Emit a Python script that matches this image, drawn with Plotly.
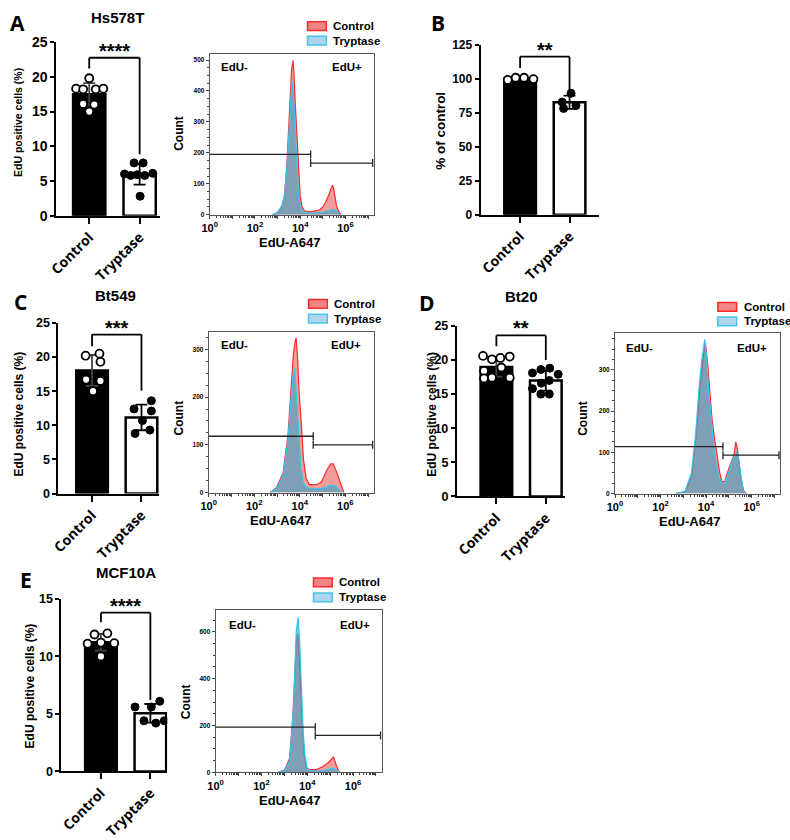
import numpy as np
import plotly.graph_objects as go

W, H = 790, 840

# ---------------- bar chart data (EdU positive cells %) ----------------
groups = ["Control", "Tryptase"]

A_ctrl = [19.8, 18.3, 18.2, 18.2, 18.3, 16.1, 16.0, 15.0]
A_ctrl_dx = [0.0, -0.26, -0.12, 0.13, 0.28, -0.12, 0.10, 0.0]
A_tryp = [7.6, 7.6, 6.0, 5.8, 5.9, 5.8, 6.1, 2.8]
A_tryp_dx = [-0.11, 0.07, -0.30, -0.18, -0.05, 0.10, 0.26, 0.01]

B_ctrl = [99.3, 100.9, 100.9, 99.9]
B_ctrl_dx = [-0.25, -0.09, 0.08, 0.27]
B_tryp = [89.5, 83.0, 78.3, 80.4]
B_tryp_dx = [0.03, -0.15, -0.12, 0.13]

C_ctrl = [20.2, 20.5, 19.3, 16.7, 16.5, 15.0]
C_ctrl_dx = [-0.13, 0.15, 0.17, -0.12, 0.17, 0.02]
C_tryp = [13.6, 12.4, 12.1, 10.7, 8.8, 9.3]
C_tryp_dx = [0.20, -0.15, 0.20, 0.02, -0.13, 0.17]

D_ctrl = [20.6, 20.1, 20.3, 20.5, 18.4, 18.9, 17.3, 17.4, 17.4]
D_ctrl_dx = [-0.27, -0.09, 0.08, 0.27, -0.25, 0.10, -0.25, -0.09, 0.27]
D_tryp = [18.1, 18.6, 18.8, 17.9, 17.0, 16.6, 15.8, 15.0, 15.0]
D_tryp_dx = [-0.27, -0.10, 0.08, 0.25, 0.07, -0.09, -0.27, -0.10, 0.07]

E_ctrl = [11.1, 11.9, 11.2, 12.0, 11.15, 10.0]
E_ctrl_dx = [-0.27, -0.13, 0.0, 0.13, 0.27, 0.0]
E_tryp = [5.6, 6.1, 5.6, 4.4, 4.2, 4.4]
E_tryp_dx = [-0.31, 0.19, 0.02, -0.13, 0.11, 0.28]

# ---------------- flow histograms (log10 EdU-A647 intensity, count) ----------------
A_hc_x = [2.80, 3.05, 3.20, 3.30, 3.40, 3.48, 3.55, 3.62, 3.68, 3.73, 3.78, 3.85, 3.92, 4.00, 4.08, 4.20, 4.45, 4.65, 4.85, 5.00, 5.12, 5.25, 5.35, 5.42, 5.47, 5.52, 5.60, 5.70, 5.80]
A_hc_y = [0, 8, 30, 60, 150, 280, 400, 470, 498, 450, 360, 250, 150, 60, 25, 12, 9, 11, 15, 25, 40, 62, 80, 95, 88, 60, 30, 10, 0]
A_ht_x = [2.75, 3.00, 3.20, 3.32, 3.42, 3.50, 3.57, 3.63, 3.68, 3.74, 3.82, 3.90, 3.98, 4.08, 4.25, 4.60, 5.00, 5.20, 5.40, 5.55, 5.65, 5.75]
A_ht_y = [0, 8, 30, 70, 160, 270, 380, 430, 415, 330, 200, 100, 40, 12, 6, 5, 8, 12, 16, 15, 8, 0]

C_hc_x = [2.70, 2.97, 3.26, 3.48, 3.62, 3.72, 3.80, 3.84, 3.90, 3.97, 4.06, 4.16, 4.28, 4.42, 4.60, 4.80, 4.95, 5.07, 5.22, 5.36, 5.46, 5.60, 5.72, 5.84, 5.94]
C_hc_y = [0, 10, 40, 120, 220, 290, 318, 324, 285, 210, 150, 70, 30, 17, 16, 18, 22, 35, 50, 60, 60, 45, 28, 10, 0]
C_ht_x = [2.70, 2.97, 3.26, 3.48, 3.62, 3.72, 3.78, 3.85, 3.95, 4.05, 4.16, 4.30, 4.60, 4.90, 5.10, 5.30, 5.50, 5.65, 5.78, 5.85]
C_ht_y = [0, 8, 35, 110, 200, 250, 260, 205, 115, 50, 20, 10, 8, 8, 10, 14, 15, 10, 3, 0]

D_hc_x = [2.70, 3.07, 3.36, 3.58, 3.72, 3.87, 3.97, 4.06, 4.16, 4.26, 4.38, 4.50, 4.60, 4.70, 4.82, 4.96, 5.11, 5.23, 5.30, 5.37, 5.45, 5.55, 5.66, 5.77]
D_hc_y = [0, 5, 40, 150, 250, 330, 365, 320, 250, 180, 130, 80, 50, 28, 30, 55, 80, 95, 125, 110, 70, 30, 5, 0]
D_ht_x = [2.63, 3.07, 3.36, 3.55, 3.68, 3.80, 3.94, 4.01, 4.11, 4.23, 4.34, 4.45, 4.56, 4.70, 4.82, 4.96, 5.11, 5.23, 5.33, 5.40, 5.50, 5.62, 5.72]
D_ht_y = [0, 5, 50, 150, 250, 320, 374, 340, 250, 170, 110, 70, 40, 25, 25, 45, 75, 90, 100, 95, 50, 10, 0]

E_hc_x = [2.72, 3.01, 3.23, 3.38, 3.45, 3.52, 3.58, 3.64, 3.71, 3.78, 3.86, 3.96, 4.10, 4.40, 4.69, 4.90, 5.05, 5.15, 5.27, 5.37, 5.44]
E_hc_y = [0, 10, 60, 250, 400, 557, 591, 520, 350, 200, 80, 20, 12, 12, 25, 40, 55, 65, 30, 5, 0]
E_ht_x = [2.72, 3.01, 3.23, 3.38, 3.45, 3.52, 3.60, 3.67, 3.74, 3.81, 3.89, 3.99, 4.10, 4.50, 4.83, 5.12, 5.27, 5.39]
E_ht_y = [0, 8, 50, 250, 420, 600, 662, 560, 380, 200, 80, 20, 8, 6, 10, 18, 10, 0]

# gates: (boundary log10, EdU- marker count, EdU+ marker count)
A_gate = [4.46, 195, 167]
C_gate = [4.59, 118, 100]
D_gate = [4.74, 114, 93]
E_gate = [4.35, 193, 158]

hist_tick_text = ["10<sup>0</sup>", "", "10<sup>2</sup>", "", "10<sup>4</sup>", "", "10<sup>6</sup>", ""]

# ---------------- helpers ----------------
def fx(px):
    return px / W

def fy(py):
    return 1 - py / H

ARIAL = "Liberation Sans, Arial, sans-serif"
OPEN = "Open Sans, Liberation Sans, sans-serif"

fig = go.Figure()
layout = dict(width=W, height=H, margin=dict(l=0, r=0, t=0, b=0),
              paper_bgcolor="white", plot_bgcolor="rgba(0,0,0,0)",
              showlegend=False, barmode="overlay")
annotations = []
shapes = []


def ann(text, xpx, ypx, size, family=ARIAL, angle=0, xanchor="center", yanchor="middle", weight="bold"):
    annotations.append(dict(text=text, x=fx(xpx), y=fy(ypx), xref="paper", yref="paper",
                            showarrow=False, textangle=angle, xanchor=xanchor, yanchor=yanchor,
                            font=dict(family=family, size=size, color="black", weight=weight)))


def bar_panel(n, ctrl, ctrl_dx, tryp, tryp_dx, xpx, ypx, x0, unit, ymax, dtick, tick_size,
              bracket, stars):
    xa, ya = ("x" if n == 1 else f"x{n}"), ("y" if n == 1 else f"y{n}")
    means = [np.mean(ctrl), np.mean(tryp)]
    sds = [np.std(ctrl, ddof=1), np.std(tryp, ddof=1)]
    fills = ["black", "white"]
    ecol = ["#444444", "black"]
    for i in range(2):
        fig.add_trace(go.Bar(x=[i], y=[means[i]], width=0.64, xaxis=xa, yaxis=ya,
                             marker=dict(color=fills[i], line=dict(color="black", width=2.5)),
                             error_y=dict(type="data", array=[sds[i]], color=ecol[i], thickness=1.8, width=6)))
    fig.add_trace(go.Scatter(x=np.array(ctrl_dx) + 0, y=ctrl, mode="markers", xaxis=xa, yaxis=ya,
                             marker=dict(symbol="circle", size=8, color="white", line=dict(color="black", width=1.8))))
    fig.add_trace(go.Scatter(x=np.array(tryp_dx) + 1, y=tryp, mode="markers", xaxis=xa, yaxis=ya,
                             marker=dict(symbol="circle", size=8, color="black", line=dict(color="black", width=1))))
    x1 = x0 + (xpx[1] - xpx[0]) / unit
    key = "" if n == 1 else str(n)
    layout["xaxis" + key] = dict(domain=[fx(xpx[0]), fx(xpx[1])], range=[x0, x1], anchor=ya,
                                 tickmode="array", tickvals=[0, 1], ticktext=groups, tickangle=-45,
                                 ticks="outside", ticklen=6, tickwidth=2, tickcolor="black",
                                 showline=True, linewidth=2, linecolor="black", showgrid=False, zeroline=False,
                                 tickfont=dict(family=OPEN, size=14, color="black", weight="bold"))
    layout["yaxis" + key] = dict(domain=[fy(ypx[1]), fy(ypx[0])], range=[0, ymax], anchor=xa,
                                 dtick=dtick, ticks="outside", ticklen=4, tickwidth=2, tickcolor="black",
                                 showline=True, linewidth=2, linecolor="black", showgrid=False, zeroline=False,
                                 tickfont=dict(family=ARIAL, size=tick_size, color="black", weight="bold"))
    yb, yl, yr = bracket
    for (a, b, c, d) in [(0, yl, 0, yb), (0, yb, 1, yb), (1, yb, 1, yr)]:
        shapes.append(dict(type="line", xref=xa, yref=ya, x0=a, y0=b, x1=c, y1=d,
                           line=dict(color="black", width=1.8)))
    annotations.append(dict(text=stars, x=0.5, y=yb, xref=xa, yref=ya, showarrow=False,
                            xanchor="center", yanchor="bottom", yshift=-6,
                            font=dict(family=ARIAL, size=20, color="black", weight="bold")))


minor_log = [d + np.log10(k) for d in range(0, 8) for k in range(2, 10) if d + np.log10(k) < 7.25]


def hist_panel(n, cx, cy, tx, ty, gate, xpx, ypx, ymax, dtick, minor_dt):
    xa, ya = f"x{n}", f"y{n}"
    fig.add_trace(go.Scatter(x=cx, y=cy, mode="lines", fill="tozeroy", xaxis=xa, yaxis=ya,
                             line=dict(color="#ff2a2a", width=1.2), fillcolor="rgba(230,60,60,0.5)"))
    fig.add_trace(go.Scatter(x=tx, y=ty, mode="lines", fill="tozeroy", xaxis=xa, yaxis=ya,
                             line=dict(color="#2ec8f0", width=1.2), fillcolor="rgba(50,160,200,0.6)"))
    key = str(n)
    layout["xaxis" + key] = dict(domain=[fx(xpx[0]), fx(xpx[1])], range=[0, 7.25], anchor=ya,
                                 tickmode="array", tickvals=list(range(8)), ticktext=hist_tick_text,
                                 ticks="outside", ticklen=3, tickwidth=1, tickcolor="#444",
                                 showline=True, linewidth=1, linecolor="#555", mirror=True,
                                 showgrid=False, zeroline=False,
                                 minor=dict(tickmode="array", tickvals=minor_log, ticks="outside",
                                            ticklen=2, tickwidth=1, tickcolor="#444"),
                                 tickfont=dict(family=ARIAL, size=11, color="black", weight="bold"))
    layout["yaxis" + key] = dict(domain=[fy(ypx[1]), fy(ypx[0])], range=[0, ymax], anchor=xa,
                                 dtick=dtick, ticks="outside", ticklen=3, tickwidth=1, tickcolor="#444",
                                 showline=True, linewidth=1, linecolor="#555", mirror=True,
                                 showgrid=False, zeroline=False,
                                 minor=dict(dtick=minor_dt, ticks="outside", ticklen=2, tickwidth=1, tickcolor="#444"),
                                 tickfont=dict(family=ARIAL, size=6.5, color="black", weight="bold"))
    gx, gneg, gpos = gate
    lw = dict(color="#222", width=1.3)
    shapes.append(dict(type="line", xref=xa, yref=ya, x0=0, x1=gx, y0=gneg, y1=gneg, line=lw))
    shapes.append(dict(type="line", xref=xa, yref=ya, x0=gx, x1=7.2, y0=gpos, y1=gpos, line=lw))
    for (cxv, cyv) in [(gx, gneg), (gx, gpos), (7.2, gpos)]:
        shapes.append(dict(type="line", xref=xa, yref=ya, ysizemode="pixel", yanchor=cyv,
                           x0=cxv, x1=cxv, y0=-4, y1=4, line=lw))


def hist_labels(edm, edp, count_xy, xlab_xy, leg):
    ann("EdU-", edm[0], edm[1], 11.5)
    ann("EdU+", edp[0], edp[1], 11.5)
    ann("Count", count_xy[0], count_xy[1], 12, angle=-90)
    ann("EdU-A647", xlab_xy[0], xlab_xy[1], 13)
    bx, by1, by2, tx = leg
    for (yy, fc, lc, lab) in [(by1, "rgba(238,120,120,0.9)", "#ff2a2a", "Control"),
                              (by2, "rgba(175,212,238,1)", "#45c4ee", "Tryptase")]:
        shapes.append(dict(type="rect", xref="paper", yref="paper", x0=fx(bx), x1=fx(bx + 19),
                           y0=fy(yy + 4.5), y1=fy(yy - 4.5), fillcolor=fc, line=dict(color=lc, width=1.5)))
        ann(lab, tx, yy, 11.5, xanchor="left")


# ---- panel A ----
bar_panel(1, A_ctrl, A_ctrl_dx, A_tryp, A_tryp_dx, (48, 153), (35, 213), -0.65, 51, 25, 5, 14,
          (22.75, 21.2, 8.85), "****")
hist_panel(2, A_hc_x, A_hc_y, A_ht_x, A_ht_y, A_gate, (203, 369), (47, 212), 520, 100, 25)
hist_labels((228, 61), (342, 61), (172, 129), (284, 240), (302, 18.5, 33.5, 326))
ann("A", 9, 15, 21, family=OPEN)
ann("Hs578T", 110, 10, 15)
ann("EdU positive cells (%)", 9, 117, 10.5, angle=-90)

# ---- panel B ----
bar_panel(3, B_ctrl, B_ctrl_dx, B_tryp, B_tryp_dx, (477, 597), (38, 212), -0.8, 50, 125, 25, 12,
          (116.4, 108, 90), "**")
ann("B", 434, 15, 21, family=OPEN)
ann("% of control", 437, 126, 13.5, angle=-90)

# ---- panel C ----
bar_panel(4, C_ctrl, C_ctrl_dx, C_tryp, C_tryp_dx, (50, 152), (323, 498), -0.68, 50, 25, 5, 12.5,
          (23.3, 21.6, 15.1), "***")
hist_panel(5, C_hc_x, C_hc_y, C_ht_x, C_ht_y, C_gate, (202, 369), (332, 497), 337, 100, 25)
hist_labels((228, 346), (341, 346), (172, 421), (275, 526), (303, 303.5, 318.5, 327))
ann("C", 12, 302, 21, family=OPEN)
ann("Bt549", 108, 295, 15)
ann("EdU positive cells (%)", 10, 416, 12, angle=-90)

# ---- panel D ----
bar_panel(6, D_ctrl, D_ctrl_dx, D_tryp, D_tryp_dx, (453, 562), (326, 501), -0.8, 50, 25, 5, 12.5,
          (23.6, 22.0, 20.0), "**")
hist_panel(7, D_hc_x, D_hc_y, D_ht_x, D_ht_y, D_gate, (613, 780), (333, 498), 390, 100, 25)
hist_labels((638, 349), (752, 349), (581, 421), (688, 527), (717, 306.5, 321.5, 741))
ann("D", 423, 303, 21, family=OPEN)
ann("Bt20", 518, 296, 15)
ann("EdU positive cells (%)", 427, 417, 12, angle=-90)

# ---- panel E ----
bar_panel(8, E_ctrl, E_ctrl_dx, E_tryp, E_tryp_dx, (53, 160), (606, 783), -0.8, 50, 15, 5, 12.5,
          (13.8, 12.97, 6.2), "****")
hist_panel(9, E_hc_x, E_hc_y, E_ht_x, E_ht_y, E_gate, (209, 377), (617, 784), 695, 200, 50)
hist_labels((236, 633), (350, 633), (179, 711), (284, 813), (308, 589, 604.5, 332))
ann("E", 17, 587, 21, family=OPEN)
ann("MCF10A", 118, 579, 15)
ann("EdU positive cells (%)", 21, 695, 12, angle=-90)

layout["annotations"] = annotations
layout["shapes"] = shapes
fig.update_layout(**layout)
fig.write_html("out.html",
               post_script="document.body.style.margin='0';document.body.style.padding='0';")
